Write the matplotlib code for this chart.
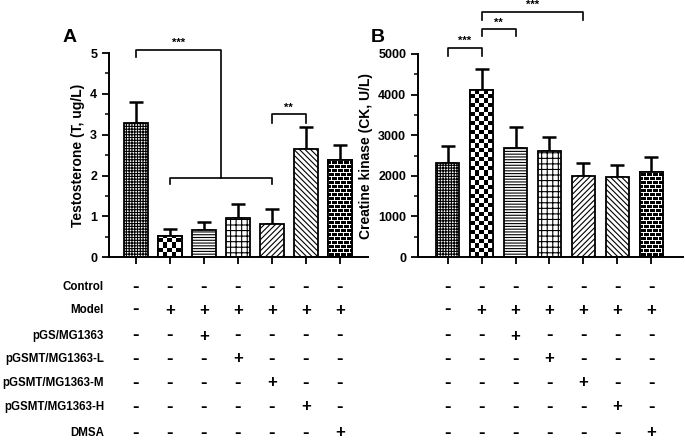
import matplotlib
matplotlib.use('Agg')
import matplotlib.pyplot as plt
import matplotlib.transforms as mtransforms
import numpy as np

plt.rcParams['font.family'] = ['Liberation Sans', 'DejaVu Sans']
plt.rcParams['font.weight'] = 'bold'
plt.rcParams['hatch.linewidth'] = 0.8

# Data
groups = ['Control', 'Model', 'pGS/MG1363', 'pGSMT/MG1363-L',
          'pGSMT/MG1363-M', 'pGSMT/MG1363-H', 'DMSA']
testo_mean = [3.29, 0.52, 0.66, 0.95, 0.82, 2.66, 2.39]
testo_err = [0.51, 0.18, 0.20, 0.35, 0.35, 0.52, 0.37]
ck_mean = [2310, 4115, 2680, 2600, 2000, 1960, 2090]
ck_err = [425, 525, 525, 365, 315, 315, 370]

# treatment table: rows = groups, columns = bars
signs = [
    ['-', '-', '-', '-', '-', '-', '-'],
    ['-', '+', '+', '+', '+', '+', '+'],
    ['-', '-', '+', '-', '-', '-', '-'],
    ['-', '-', '-', '+', '-', '-', '-'],
    ['-', '-', '-', '-', '+', '-', '-'],
    ['-', '-', '-', '-', '-', '+', '-'],
    ['-', '-', '-', '-', '-', '-', '+'],
]
hatches = ['++++++', 'checker', '------', '+++', '//////', '\\\\\\\\\\\\', 'brick']
sign_size = {'-': 14, '+': 12}

fig = plt.figure(figsize=[6.85, 4.41], dpi=100)
axA = fig.add_axes([109/685, 1-257.3/441, 259/685, 204.3/441])
axB = fig.add_axes([418/685, 1-257/441, 265/685, 203/441])

x = np.arange(len(groups))
bw = 0.7


def texture(kind, h, w):
    ii, jj = np.mgrid[0:h, 0:w]
    if kind == 'checker':
        s = 4.5
        return ((np.floor(ii/s) + np.floor(jj/s)) % 2)
    # brick: white mortar lines on black
    row = ii // 4
    mortar = (ii % 4 == 0) | (((jj + (row % 2)*3) % 6) == 0)
    return mortar.astype(float)


def draw_bars(ax, mean, err, xlim, ylim):
    ax.set_xlim(xlim)
    ax.set_ylim(ylim)
    for i in range(len(mean)):
        h = hatches[i]
        if h in ('checker', 'brick'):
            rect = ax.bar(x[i], mean[i], width=bw, color='white',
                          edgecolor='black', linewidth=1.3, zorder=2)[0]
            p0 = ax.transData.transform((x[i]-bw/2, 0))
            p1 = ax.transData.transform((x[i]+bw/2, mean[i]))
            wpx = max(int(round(p1[0]-p0[0])), 1)
            hpx = max(int(round(p1[1]-p0[1])), 1)
            im = ax.imshow(texture(h, hpx, wpx), cmap='gray_r', vmin=0, vmax=1,
                           origin='lower', aspect='auto', interpolation='nearest',
                           extent=[x[i]-bw/2, x[i]+bw/2, 0, mean[i]], zorder=2.5)
            if h == 'brick':
                im.set_cmap('gray')
            im.set_clip_path(rect)
            ax.bar(x[i], mean[i], width=bw, fill=False, edgecolor='black',
                   linewidth=1.3, zorder=3)
        else:
            ax.bar(x[i], mean[i], width=bw, color='white', edgecolor='black',
                   hatch=h, linewidth=1.3, zorder=2)
    ax.errorbar(x, mean, yerr=[np.zeros(len(err)), err], fmt='none',
                ecolor='black', elinewidth=1.8, capsize=5, capthick=1.8, zorder=1)
    ax.set_xlim(xlim)
    ax.set_ylim(ylim)
    ax.spines['top'].set_visible(False)
    ax.spines['right'].set_visible(False)
    ax.spines['left'].set_linewidth(1.4)
    ax.spines['bottom'].set_linewidth(1.4)
    ax.set_xticks(x)
    ax.set_xticklabels([])
    ax.tick_params(axis='x', length=5, width=1.3)
    ax.tick_params(axis='y', which='major', length=5, width=1.3, labelsize=9)
    ax.tick_params(axis='y', which='minor', length=3, width=1.1)


def bracket(ax, x1, x2, y, h1, h2, text, dy):
    ax.plot([x1, x1, x2, x2], [y-h1, y, y, y-h2], color='black', lw=1.2,
            clip_on=False)
    if text:
        ax.text((x1+x2)/2, y+dy, text, ha='center', va='bottom', fontsize=8,
                fontweight='bold', clip_on=False)


# Panel A
draw_bars(axA, testo_mean, testo_err, (-0.79, 6.83), (0, 5))
axA.set_yticks(np.arange(0, 6, 1))
axA.set_yticks(np.arange(0.5, 5, 1), minor=True)
axA.set_ylabel('Testosterone (T, ug/L)', fontsize=10, fontweight='bold',
               labelpad=4)
bracket(axA, 1, 4, 1.94, 0.14, 0.14, '', 0)
bracket(axA, 0, 2.5, 5.08, 0.19, 3.14, '***', 0.05)
bracket(axA, 4, 5, 3.51, 0.22, 0.22, '**', 0.02)

# Panel B
draw_bars(axB, ck_mean, ck_err, (-0.87, 6.93), (0, 5000))
axB.set_yticks(np.arange(0, 6000, 1000))
axB.set_yticks(np.arange(500, 5000, 1000), minor=True)
axB.set_ylabel('Creatine kinase (CK, U/L)', fontsize=10, fontweight='bold',
               labelpad=4)
bracket(axB, 0, 1, 5155, 205, 205, '***', 50)
bracket(axB, 1, 2, 5615, 170, 170, '**', 40)
bracket(axB, 1, 4, 6030, 190, 190, '***', 50)

for ax in (axA, axB):
    for lab in ax.get_yticklabels():
        lab.set_fontweight('bold')

fig.text(70/685, 1-38/441, 'A', fontsize=14, fontweight='bold',
         ha='center', va='center')
fig.text(378/685, 1-38/441, 'B', fontsize=14, fontweight='bold',
         ha='center', va='center')

# Treatment table below the bars
row_y = [287, 310, 336, 359, 383, 407, 433]
transA = mtransforms.blended_transform_factory(axA.transData, fig.transFigure)
transB = mtransforms.blended_transform_factory(axB.transData, fig.transFigure)
for r in range(len(groups)):
    yy = 1 - row_y[r]/441
    fig.text(104/685, yy, groups[r], ha='right', va='center', fontsize=8.3,
             fontweight='bold')
    for c in range(len(x)):
        s = signs[r][c]
        axA.text(x[c], yy, s, transform=transA, ha='center',
                 va='center', fontsize=sign_size[s], fontweight='bold')
        axB.text(x[c], yy, s, transform=transB, ha='center',
                 va='center', fontsize=sign_size[s], fontweight='bold')

plt.savefig('out.png', dpi=100)
